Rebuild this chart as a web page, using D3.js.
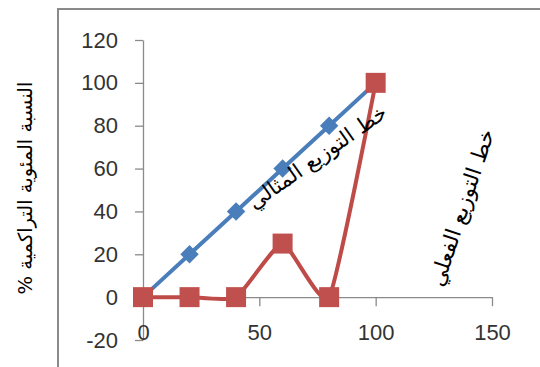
<!DOCTYPE html>
<html>
<head>
<meta charset="utf-8">
<script src="https://cdn.jsdelivr.net/npm/d3@7"></script>
<style>
  body { margin: 0; background: #fff; }
  svg { display: block; }
  .tick text { font-family: "Liberation Sans", Arial, sans-serif; font-size: 22px; fill: #333; }
  .ar { font-family: "DejaVu Sans", sans-serif; fill: #000; }
</style>
</head>
<body>
<svg id="chart" width="540" height="367"></svg>
<script>
// data
var xValues = [0, 20, 40, 60, 80, 100];
var idealValues = [0, 20, 40, 60, 80, 100];
var actualValues = [0, 0, 0, 25, 0, 100];
var xTicks = [0, 50, 100, 150];
var yTicks = [-20, 0, 20, 40, 60, 80, 100, 120];
var idealLabel = "خط التوزيع المثالي";
var actualLabel = "خط التوزيع الفعلي";
var yTitle = "النسبة المئوية التراكمية %";

var svg = d3.select("#chart");

// outer frame (only left and top edges are visible)
svg.append("rect")
    .attr("x", 58).attr("y", 9)
    .attr("width", 520).attr("height", 400)
    .attr("fill", "#fff")
    .attr("stroke", "#8a8a8a")
    .attr("stroke-width", 2);

var x = d3.scaleLinear().domain([0, 150]).range([143, 492]);
var y = d3.scaleLinear().domain([-20, 120]).range([340, 40]);

// plain hyphen for negatives, like the original
var fmt = function(d) { return String(d); };

// y axis
var yAxis = svg.append("g")
    .attr("transform", "translate(" + x(0) + ",0)")
    .call(d3.axisLeft(y).tickValues(yTicks).tickFormat(fmt).tickSize(8).tickPadding(17).tickSizeOuter(0));
yAxis.select(".domain").attr("stroke", "#8a8a8a").attr("stroke-width", 1.3);
yAxis.selectAll(".tick line").attr("stroke", "#8a8a8a").attr("stroke-width", 1.3);

// x axis crosses at y = 0
var xAxis = svg.append("g")
    .attr("transform", "translate(0," + y(0) + ")")
    .call(d3.axisBottom(x).tickValues(xTicks).tickFormat(fmt).tickSize(9).tickSizeOuter(0));
xAxis.select(".domain").attr("stroke", "#8a8a8a").attr("stroke-width", 1.3);
xAxis.selectAll(".tick line").attr("stroke", "#8a8a8a").attr("stroke-width", 1.3);
// tick labels sit below the -20 line, as Excel does
xAxis.selectAll(".tick text").attr("y", 27);

var ideal = xValues.map(function(d, i) { return [d, idealValues[i]]; });
var actual = xValues.map(function(d, i) { return [d, actualValues[i]]; });

var lineStraight = d3.line()
    .x(function(d) { return x(d[0]); })
    .y(function(d) { return y(d[1]); });

var lineSmooth = d3.line()
    .curve(d3.curveCardinal.tension(0.5))
    .x(function(d) { return x(d[0]); })
    .y(function(d) { return y(d[1]); });

svg.append("path")
    .datum(ideal)
    .attr("d", lineStraight)
    .attr("fill", "none")
    .attr("stroke", "#4a7ebb")
    .attr("stroke-width", 4);

svg.selectAll(".diamond")
    .data(ideal)
    .enter().append("path")
    .attr("class", "diamond")
    .attr("d", d3.symbol().type(d3.symbolSquare).size(170))
    .attr("transform", function(d) { return "translate(" + x(d[0]) + "," + y(d[1]) + ") rotate(45)"; })
    .attr("fill", "#4a7ebb");

svg.append("path")
    .datum(actual)
    .attr("d", lineSmooth)
    .attr("fill", "none")
    .attr("stroke", "#be4b48")
    .attr("stroke-width", 4);

svg.selectAll(".square")
    .data(actual)
    .enter().append("path")
    .attr("class", "square")
    .attr("d", d3.symbol().type(d3.symbolSquare).size(400))
    .attr("transform", function(d) { return "translate(" + x(d[0]) + "," + y(d[1]) + ")"; })
    .attr("fill", "#c0504d");

// rotated series labels
svg.append("text")
    .attr("class", "ar")
    .attr("transform", "translate(318,158) rotate(-35)")
    .attr("text-anchor", "middle")
    .attr("dominant-baseline", "middle")
    .attr("font-size", 21)
    .attr("direction", "rtl")
    .text(idealLabel);

svg.append("text")
    .attr("class", "ar")
    .attr("transform", "translate(463,208) rotate(-71.6)")
    .attr("text-anchor", "middle")
    .attr("dominant-baseline", "middle")
    .attr("font-size", 21.5)
    .attr("direction", "rtl")
    .text(actualLabel);

svg.append("text")
    .attr("class", "ar")
    .attr("transform", "translate(26,188) rotate(-90)")
    .attr("text-anchor", "middle")
    .attr("dominant-baseline", "middle")
    .attr("font-size", 19.5)
    .attr("direction", "rtl")
    .text(yTitle);
</script>
</body>
</html>
